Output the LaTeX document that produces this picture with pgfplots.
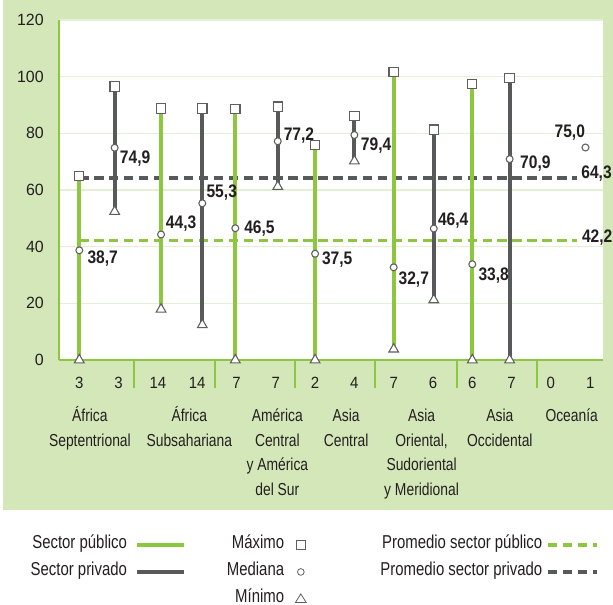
\documentclass[border=0pt]{standalone}
\usepackage{fontspec}
\setmainfont{Liberation Sans}[FakeStretch=0.8]
\newfontfamily\tickfont{Liberation Sans}[FakeStretch=0.92]
\newfontfamily\ytickfont{Liberation Sans}[FakeStretch=0.98]
\newfontfamily\lblfont{Liberation Sans}[FakeStretch=0.86]
\usepackage{pgfplots}
\pgfplotsset{compat=1.18}

\definecolor{pubgreen}{RGB}{141,198,63}
\definecolor{privgray}{RGB}{88,89,91}
\definecolor{bggreen}{RGB}{212,231,185}
\definecolor{gridgreen}{RGB}{228,240,214}
\definecolor{markgray}{RGB}{95,95,95}
\definecolor{txt}{RGB}{35,31,32}

\begin{document}
\begin{tikzpicture}[
    lbl/.style={font=\lblfont\bfseries\fontsize{13.6}{16}\selectfont, inner sep=0pt, anchor=west, text=txt},
    region/.style={font=\fontsize{13}{18.4}\selectfont, align=center, anchor=north, inner sep=0pt, yshift=-33.2pt, text=txt},
    cell/.style={draw=none, fill=none},
]
\path[use as bounding box, fill=white] (0pt,0pt) rectangle (459.75pt,453.75pt);
\fill[bggreen] (2.25pt,71.25pt) rectangle (459.75pt,453.75pt);
\begin{axis}[
    at={(44.25pt,183.75pt)}, anchor=south west,
    scale only axis, width=408pt, height=255pt,
    xmin=-0.5165, xmax=13.326, ymin=0, ymax=120,
    axis background/.style={fill=white},
    axis x line*=bottom, axis y line*=left,
    axis line style={draw=pubgreen, line width=1.5pt, -},
    major tick length=0pt,
    ytick={0,20,...,120},
    ymajorgrids, grid style={draw=gridgreen, line width=0.8pt},
    xtick={0,...,13},
    xticklabels={3,3,14,14,7,7,2,4,7,6,6,7,0,1},
    /pgf/number format/assume math mode=true,
    tick label style={text=txt},
    xticklabel style={font=\tickfont\fontsize{12.2}{14}\selectfont, anchor=base, yshift=-21.2pt, inner sep=0pt},
    yticklabel style={font=\ytickfont\fontsize{12.2}{14}\selectfont, anchor=east, inner sep=0pt, xshift=-11.25pt},
    extra x ticks={1.4,3.45,5.5,7.52,9.6,11.65},
    extra x tick labels={},
    extra x tick style={major tick length=21.2pt, tick align=outside,
        tick style={draw=pubgreen, line width=1.5pt}, grid=none},
    clip=false,
    legend columns=3,
    legend plot pos=right,
    legend cell align=right,
    legend style={at={(rel axis cs:-0.0575,-0.5035)}, anchor=north west,
        draw=none, fill=none, inner sep=0pt,
        font=\fontsize{14}{16}\selectfont,
        nodes={inner xsep=2pt, inner ysep=0pt, text height=0.7em, text depth=0.1em, text=txt}},
]
% promedios
\addplot[pubgreen, line width=2.6pt, dash pattern=on 7pt off 4.2pt, forget plot]
    coordinates {(0,42.2) (12.66,42.2)};
\addplot[privgray, line width=2.6pt, dash pattern=on 7pt off 4.2pt, forget plot]
    coordinates {(0,64.3) (12.66,64.3)};
% rango minimo-maximo, sector publico
\addplot[pubgreen, line width=3pt, unbounded coords=jump, forget plot] coordinates {
    (0,0) (0,65) (0,nan)
    (2.08,17.9) (2.08,88.8) (2.08,nan)
    (3.97,0) (3.97,88.5) (3.97,nan)
    (6,0) (6,75.9) (6,nan)
    (8,3.8) (8,101.6) (8,nan)
    (10,0) (10,97.5)
};
% rango minimo-maximo, sector privado
\addplot[privgray, line width=3pt, unbounded coords=jump, forget plot] coordinates {
    (0.9,52.4) (0.9,96.5) (0.9,nan)
    (3.13,12.4) (3.13,88.8) (3.13,nan)
    (5.05,61.2) (5.05,89.4) (5.05,nan)
    (7,70.2) (7,86.2) (7,nan)
    (9.02,21.2) (9.02,81.3) (9.02,nan)
    (10.95,0) (10.95,99.5)
};
% maximo
\addplot[only marks, mark=square*, mark size=3.5pt,
    mark options={fill=white, draw=markgray, line width=0.8pt}, forget plot] coordinates {
    (0,65) (0.9,96.5) (2.08,88.8) (3.13,88.8) (3.97,88.5) (5.05,89.4)
    (6,75.9) (7,86.2) (8,101.6) (9.02,81.3) (10,97.5) (10.95,99.5)
};
% minimo
\addplot[only marks, mark=triangle*, mark size=4.2pt,
    mark options={fill=white, draw=markgray, line width=0.8pt}, forget plot] coordinates {
    (0,0) (0.9,52.4) (2.08,17.9) (3.13,12.4) (3.97,0) (5.05,61.2)
    (6,0) (7,70.2) (8,3.8) (9.02,21.2) (10,0) (10.95,0)
};
% mediana
\addplot[only marks, mark=*, mark size=2.6pt,
    mark options={fill=white, draw=markgray, line width=0.8pt}, forget plot] coordinates {
    (0,38.7) (0.9,74.9) (2.08,44.3) (3.13,55.3) (3.97,46.5) (5.05,77.2)
    (6,37.5) (7,79.4) (8,32.7) (9.02,46.4) (10,33.8) (10.95,70.9) (12.88,75.0)
};

\node[lbl, xshift=6pt, yshift=-6.2pt] at (axis cs:0,38.7) {38,7};
\node[lbl, xshift=3.75pt, yshift=-8.1pt] at (axis cs:0.9,74.9) {74,9};
\node[lbl, xshift=3.5pt, yshift=8.1pt] at (axis cs:2.08,44.3) {44,3};
\node[lbl, xshift=3pt, yshift=8.25pt] at (axis cs:3.13,55.3) {55,3};
\node[lbl, xshift=6.5pt] at (axis cs:3.97,46.5) {46,5};
\node[lbl, xshift=4.3pt, yshift=4.5pt] at (axis cs:5.05,77.2) {77,2};
\node[lbl, xshift=5pt, yshift=-4.5pt] at (axis cs:6,37.5) {37,5};
\node[lbl, xshift=4.7pt, yshift=-8pt] at (axis cs:7,79.4) {79,4};
\node[lbl, xshift=3.5pt, yshift=-9.2pt] at (axis cs:8,32.7) {32,7};
\node[lbl, xshift=3pt, yshift=6pt] at (axis cs:9.02,46.4) {46,4};
\node[lbl, xshift=4.5pt, yshift=-8.25pt] at (axis cs:10,33.8) {33,8};
\node[lbl, xshift=7.7pt, yshift=-3.5pt] at (axis cs:10.95,70.9) {70,9};
\node[lbl, anchor=east, xshift=-0.2pt, yshift=11.25pt] at (axis cs:12.88,75.0) {75,0};
\node[lbl, xshift=3.2pt, yshift=3.4pt] at (axis cs:12.66,64.3) {64,3};
\node[lbl, xshift=3.7pt, yshift=2.3pt] at (axis cs:12.66,42.2) {42,2};

\node[region] at (axis cs:0.27,0) {\strut África\\Septentrional};
\node[region] at (axis cs:2.80,0) {\strut África\\Subsahariana};
\node[region] at (axis cs:5.04,0) {\strut América\\Central\\y América\\del Sur};
\node[region] at (axis cs:6.79,0) {\strut Asia\\Central};
\node[region] at (axis cs:8.71,0) {\strut Asia\\Oriental,\\Sudoriental\\y Meridional};
\node[region] at (axis cs:10.70,0) {\strut Asia\\Occidental};
\node[region] at (axis cs:12.53,0) {\strut Oceanía};

% leyenda (los espacios se fijan con el recuadro invisible de cada imagen)
\addlegendimage{legend image code/.code={\path[cell] (-5.7pt,-10.125pt) rectangle (65.25pt,10.125pt);
    \draw[pubgreen, line width=3pt] (0pt,0pt) -- (35pt,0pt);}}
\addlegendentry{Sector público}
\addlegendimage{legend image code/.code={\path[cell] (-10.5pt,-10.125pt) rectangle (57.7pt,10.125pt);
    \draw[markgray, line width=0.6pt, fill=white] (-3.3pt,-3.3pt) rectangle (3.3pt,3.3pt);}}
\addlegendentry{Máximo}
\addlegendimage{legend image code/.code={\path[cell] (-2.25pt,-10.125pt) rectangle (36.5pt,10.125pt);
    \draw[pubgreen, line width=2.6pt, dash pattern=on 7pt off 4.2pt] (0pt,0pt) -- (36.5pt,0pt);}}
\addlegendentry{Promedio sector público}
\addlegendimage{legend image code/.code={\path[cell] (-5.7pt,-10.125pt) rectangle (65.25pt,10.125pt);
    \draw[privgray, line width=3pt] (0pt,0pt) -- (35pt,0pt);}}
\addlegendentry{Sector privado}
\addlegendimage{legend image code/.code={\path[cell] (-10.5pt,-10.125pt) rectangle (57.7pt,10.125pt);
    \draw[markgray, line width=0.6pt, fill=white] (0pt,0pt) circle (2.5pt);}}
\addlegendentry{Mediana}
\addlegendimage{legend image code/.code={\path[cell] (-2.25pt,-10.125pt) rectangle (36.5pt,10.125pt);
    \draw[privgray, line width=2.6pt, dash pattern=on 7pt off 4.2pt] (0pt,0pt) -- (36.5pt,0pt);}}
\addlegendentry{Promedio sector privado}
\addlegendimage{empty legend}
\addlegendentry{}
\addlegendimage{legend image code/.code={\path[cell] (-10.5pt,-10.125pt) rectangle (57.7pt,10.125pt);
    \draw[markgray, line width=0.6pt, fill=white] (0pt,3.8pt) -- (-4pt,-2.6pt) -- (4pt,-2.6pt) -- cycle;}}
\addlegendentry{Mínimo}
\end{axis}
\end{tikzpicture}
\end{document}
